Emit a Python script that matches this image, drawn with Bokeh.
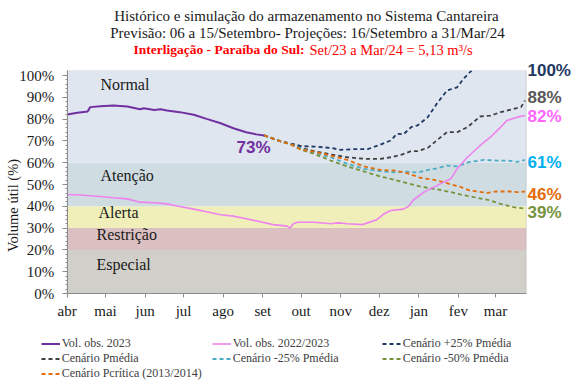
import math
from bokeh.plotting import figure
from bokeh.models import (Range1d, FixedTicker, BoxAnnotation, Label, Legend,
                          LegendItem, ColumnDataSource)
from bokeh.embed import file_html
from bokeh.resources import INLINE

# ---------------- data ----------------
months = ["abr", "mai", "jun", "jul", "ago", "set", "out", "nov", "dez", "jan", "fev", "mar"]
month_start_day = [0, 30, 61, 91, 122, 153, 183, 214, 244, 275, 306, 335]

band_names = ["Especial", "Restrição", "Alerta", "Atenção", "Normal"]
band_bottom = [0, 20, 30, 40, 60]
band_top = [20, 30, 40, 60, 102.3]
band_colors = ["#d1cfca", "#dbc0c1", "#f0efba", "#cfdce1", "#dfe6f0"]

obs23_day = [0, 8, 16, 18, 26, 36, 47, 57, 60, 68, 73, 78, 88, 99, 109, 120, 130, 140, 148, 154]
obs23_val = [82.1, 82.9, 83.5, 85.5, 85.9, 86.2, 85.8, 84.5, 85.0, 84.2, 84.5, 84.0, 83.2, 82.0,
             80.1, 78.1, 75.8, 74.0, 73.0, 72.5]

obs22_day = [0, 10, 26, 36, 47, 57, 68, 78, 88, 99, 109, 120, 130, 140, 151, 161, 172, 174, 177,
             180, 193, 206, 212, 219, 231, 235, 242, 248, 253, 263, 267, 271, 279, 289, 300, 305,
             313, 323, 331, 339, 344, 352, 358]
obs22_val = [45.4, 45.2, 44.5, 43.9, 43.4, 41.9, 41.6, 41.1, 39.9, 38.7, 37.5, 36.1, 35.5, 34.3,
             32.9, 31.6, 30.9, 30.0, 32.0, 32.7, 32.7, 32.0, 32.4, 32.0, 31.6, 32.4, 33.8, 36.6,
             38.1, 38.7, 40.0, 43.0, 46.5, 49.5, 52.6, 57.2, 62.5, 67.9, 71.7, 76.3, 79.4, 80.9, 81.7]

p25_day = [154, 160, 167, 175, 183, 193, 206, 214, 224, 235, 245, 253, 258, 263, 269, 274, 282,
           289, 297, 305, 310, 315, 319]
p25_val = [72.5, 71.3, 69.8, 68.8, 67.6, 67.4, 66.8, 65.9, 66.2, 66.2, 68.3, 70.2, 73.3, 73.0,
           76.3, 77.1, 80.9, 87.0, 93.1, 94.6, 98.5, 101.5, 104.0]

pmed_day = [154, 160, 167, 175, 183, 193, 206, 219, 232, 245, 253, 261, 269, 274, 282, 289, 297,
            305, 313, 323, 331, 339, 349, 355, 358]
pmed_val = [72.5, 71.3, 69.8, 68.6, 66.8, 65.3, 63.8, 62.5, 61.8, 61.8, 62.5, 63.6, 65.3, 65.3,
            66.8, 70.2, 74.0, 74.0, 76.3, 81.2, 81.6, 83.2, 84.7, 85.5, 88.5]

m25_day = [154, 160, 167, 175, 183, 193, 206, 219, 232, 245, 256, 266, 274, 282, 289, 297, 305,
           315, 326, 336, 344, 352, 358]
m25_val = [72.5, 71.3, 69.8, 68.5, 66.5, 64.7, 62.5, 59.5, 57.2, 56.1, 55.6, 55.9, 55.5, 56.7,
           57.4, 58.7, 58.3, 60.4, 61.3, 61.0, 61.0, 60.4, 61.3]

m50_day = [154, 160, 167, 175, 183, 193, 206, 219, 232, 245, 256, 266, 276, 287, 297, 308, 318,
           329, 339, 349, 358]
m50_val = [72.5, 71.3, 69.8, 68.3, 65.9, 64.1, 61.0, 58.3, 56.0, 53.7, 52.1, 50.6, 49.1, 48.0,
           46.9, 45.4, 44.2, 43.0, 41.1, 39.6, 38.9]

pcrit_day = [154, 160, 167, 175, 183, 193, 206, 219, 232, 245, 256, 266, 276, 287, 297, 308, 315,
             329, 336, 347, 352, 358]
pcrit_val = [72.5, 71.3, 69.8, 68.4, 66.0, 65.1, 63.3, 61.3, 58.3, 56.7, 56.4, 55.2, 53.1, 52.1,
             50.6, 48.8, 47.2, 46.2, 46.8, 46.8, 46.5, 46.8]

end_labels = ["100%", "88%", "82%", "61%", "46%", "39%"]
end_colors = ["#1f3864", "#595959", "#ff66ff", "#00b0f0", "#e46c0a", "#77933c"]
last_obs_label = "73%"

# ---------------- layout helpers (reference pixel -> data) ----------------
XMAX, YMAX = 359, 102.3
FX0, FX1, FY0, FY1 = 66.7, 525.7, 70.0, 293.0   # plot area in reference pixels
W, H, M = 581, 385, 0


def dx(px):
    return (px - FX0) * XMAX / (FX1 - FX0)


def dy(py):
    return (FY1 - py) * YMAX / (FY1 - FY0)


SERIF = "Liberation Serif"
SANS = "Liberation Sans"
AXIS_GRAY = "#8c8c8c"

# the frame spans the whole canvas; the axes are pinned to the plot area
p = figure(width=W, height=H, title=None, output_backend="svg", toolbar_location=None,
           x_range=Range1d(dx(M), dx(M + W)), y_range=Range1d(dy(M + H), dy(M)),
           min_border=0)
p.background_fill_color = "white"
p.border_fill_color = "white"
p.outline_line_color = None
p.grid.visible = False

# bands
for b, t, c in zip(band_bottom, band_top, band_colors):
    p.add_layout(BoxAnnotation(left=0, right=XMAX, bottom=b, top=t, fill_color=c,
                               fill_alpha=1.0, line_alpha=0, level="underlay"))
# plot-area border
p.add_layout(BoxAnnotation(left=0, right=XMAX, bottom=0, top=YMAX, fill_alpha=0,
                           line_color=AXIS_GRAY, line_width=1, level="underlay"))

band_label_pos = [(96, 264), (96, 234), (98, 211.7), (100, 174.5), (100, 84)]
for name, (bx, by) in zip(band_names, band_label_pos):
    p.add_layout(Label(x=dx(bx), y=dy(by), text=name, text_font=SERIF, text_font_size="16px",
                       text_color="#1a1a1a", text_baseline="middle", text_align="left"))


def line(days, vals, color, width, dash="solid"):
    src = ColumnDataSource(dict(x=days, y=vals))
    return p.line("x", "y", source=src, line_color=color, line_width=width, line_dash=dash)


r_p25 = line(p25_day, p25_val, "#1f3864", 1.8, "4 3")
r_pmed = line(pmed_day, pmed_val, "#404040", 1.8, "4 3")
r_m25 = line(m25_day, m25_val, "#4bacc6", 1.8, "4 3")
r_m50 = line(m50_day, m50_val, "#77933c", 1.8, "4 3")
r_pcrit = line(pcrit_day, pcrit_val, "#e46c0a", 1.8, "4 3")
r_obs22 = line(obs22_day, obs22_val, "#ee82ee", 1.6)
r_obs23 = line(obs23_day, obs23_val, "#7030a0", 2.0)

# hide the +25% line above the plot-area top (it leaves the chart there)
p.add_layout(BoxAnnotation(left=0, right=XMAX, bottom=YMAX, top=None, fill_color="white",
                           fill_alpha=1.0, line_alpha=0, level="glyph"))

# axes
xa = p.xaxis[0]
xa.fixed_location = 0
xa.bounds = (0, XMAX)
xa.ticker = FixedTicker(ticks=month_start_day)
xa.major_label_overrides = {d: m for d, m in zip(month_start_day, months)}
xa.minor_tick_line_color = None
xa.major_tick_out = 4
xa.major_tick_in = 0
xa.major_label_standoff = 5
xa.axis_line_color = AXIS_GRAY
xa.major_tick_line_color = AXIS_GRAY
xa.major_label_text_font = SERIF
xa.major_label_text_font_size = "15px"
xa.major_label_text_color = "#1a1a1a"

ya = p.yaxis[0]
yticks = list(range(0, 101, 10))
ya.fixed_location = 0
ya.bounds = (0, YMAX)
ya.ticker = FixedTicker(ticks=yticks, minor_ticks=[v for v in range(0, 101, 2) if v % 10])
ya.major_label_overrides = {v: f"{v}%" for v in yticks}
ya.major_tick_out = 5
ya.major_tick_in = 0
ya.minor_tick_out = 2
ya.minor_tick_in = 0
ya.major_label_standoff = 8
ya.axis_line_color = AXIS_GRAY
ya.major_tick_line_color = AXIS_GRAY
ya.minor_tick_line_color = AXIS_GRAY
ya.major_label_text_font = SERIF
ya.major_label_text_font_size = "15px"
ya.major_label_text_color = "#1a1a1a"

p.add_layout(Label(x=dx(12.5), y=dy(205), text="Volume útil (%)", angle=math.pi / 2,
                   text_font=SERIF, text_font_size="14.5px", text_color="#1a1a1a",
                   text_align="center", text_baseline="middle"))

# titles
p.add_layout(Label(x=dx(306), y=dy(15), text="Histórico e simulação do armazenamento no Sistema Cantareira",
                   text_font=SERIF, text_font_size="15px", text_color="#1a1a1a",
                   text_align="center", text_baseline="middle"))
p.add_layout(Label(x=dx(307), y=dy(32.3), text="Previsão: 06 a 15/Setembro- Projeções: 16/Setembro a 31/Mar/24",
                   text_font=SERIF, text_font_size="15px", text_color="#1a1a1a",
                   text_align="center", text_baseline="middle"))
p.add_layout(Label(x=dx(304), y=dy(49.3), text="Interligação - Paraíba do Sul:",
                   text_font=SERIF, text_font_size="13.5px", text_font_style="bold",
                   text_color="#ff0000", text_align="right", text_baseline="middle"))
p.add_layout(Label(x=dx(309), y=dy(49.3), text="Set/23 a Mar/24 = 5,13 m³/s",
                   text_font=SERIF, text_font_size="14.5px", text_color="#ff0000",
                   text_align="left", text_baseline="middle"))

# value labels
p.add_layout(Label(x=dx(253), y=dy(146.5), text=last_obs_label, text_font=SANS,
                   text_font_size="17px", text_font_style="bold", text_color="#7030a0",
                   text_align="center", text_baseline="middle"))
end_label_py = [70, 97, 115.5, 161.7, 194.3, 211.7]
for t, c, py in zip(end_labels, end_colors, end_label_py):
    p.add_layout(Label(x=dx(527), y=dy(py), text=t, text_font=SANS, text_font_size="17px",
                       text_font_style="bold", text_color=c, text_align="left",
                       text_baseline="middle"))


# legends (three columns); location = bottom-left corner in canvas pixels from bottom-left
def make_legend(items, left_px, top_px):
    n = len(items)
    vx = left_px - M
    vy = H - ((top_px - M) + 15 * n)
    lg = Legend(items=[LegendItem(label=l, renderers=[r]) for l, r in items],
                location=(vx, vy), orientation="vertical", padding=0, margin=0, spacing=0,
                glyph_width=19, glyph_height=15, label_height=15, label_standoff=2,
                border_line_alpha=0, background_fill_alpha=0,
                label_text_font=SERIF, label_text_font_size="12px", label_text_color="#404040")
    p.add_layout(lg, "center")


make_legend([("Vol. obs. 2023", r_obs23), ("Cenário Pmédia", r_pmed),
             ("Cenário Pcrítica (2013/2014)", r_pcrit)], 40.7, 335.8)
make_legend([("Vol. obs. 2022/2023", r_obs22), ("Cenário -25% Pmédia", r_m25)], 211.7, 335.8)
make_legend([("Cenário +25% Pmédia", r_p25), ("Cenário -50% Pmédia", r_m50)], 381.7, 335.8)

open("out.html", "w").write(file_html(p, INLINE))
